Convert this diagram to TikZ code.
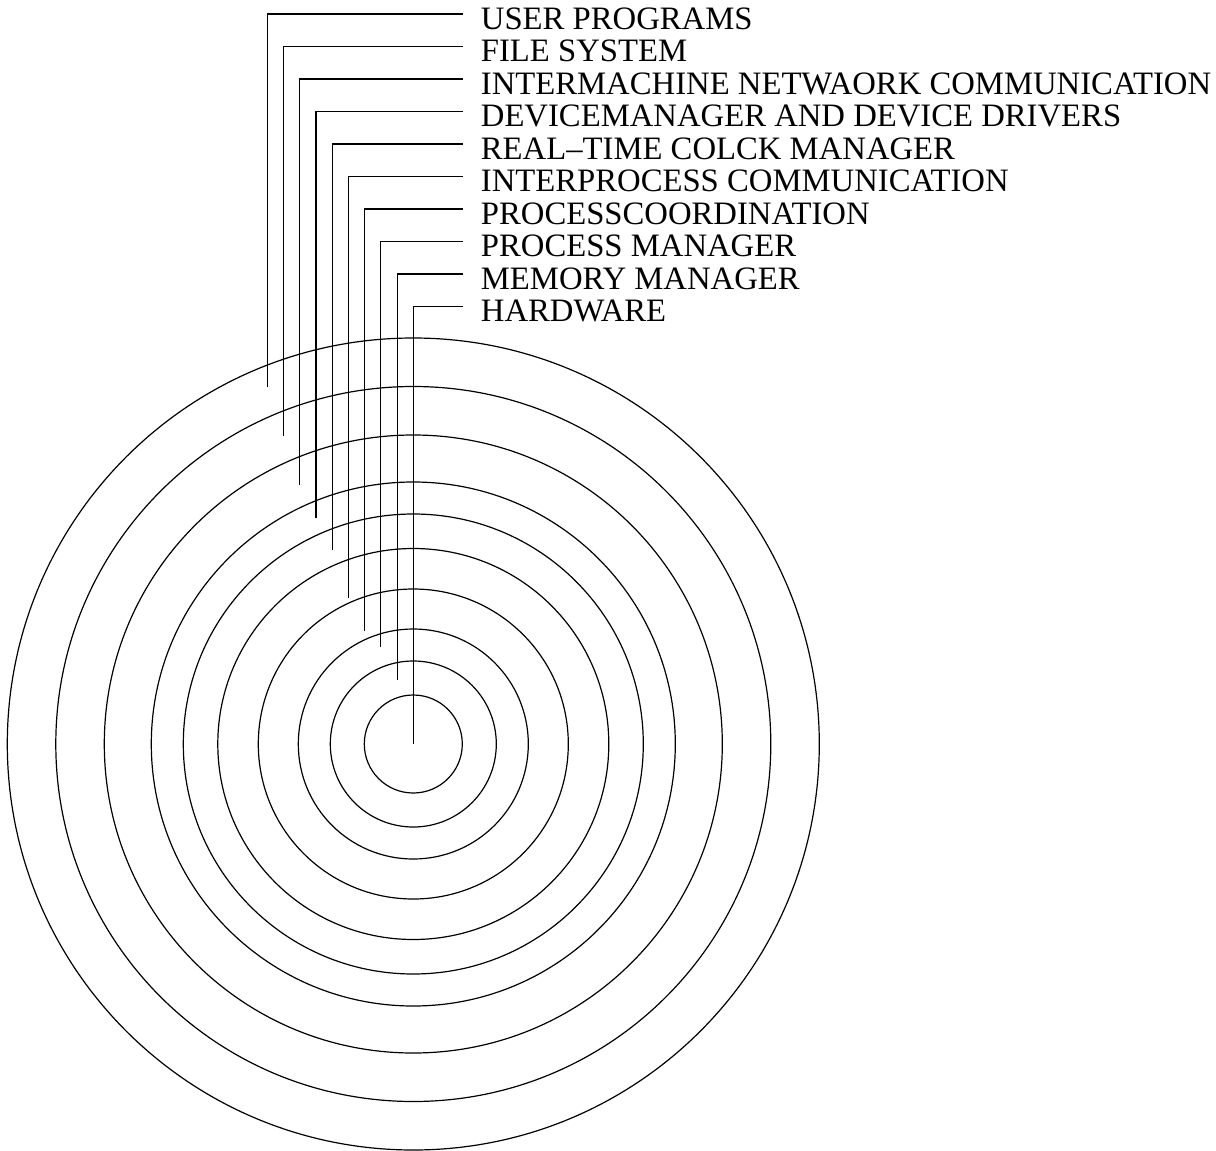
\documentclass[tikz,border=0pt]{standalone}
\usepackage{fontspec}
\setmainfont{Liberation Serif}
\usetikzlibrary{positioning}

\begin{document}
\begin{tikzpicture}[x=1pt, y=-1pt, line width=1.2pt,
  layerlbl/.style={anchor=west, inner xsep=17.8pt, inner ysep=0pt,
    text height=30pt, text depth=0pt, font=\fontsize{32.7}{32.7}\selectfont}]
  \useasboundingbox (0,0) rectangle (1216,1151);
  % rings, from hardware outwards
  \coordinate (ctr) at (413.3,744);
  \draw (ctr) circle[radius=49];
  \draw (ctr) circle[radius=83];
  \draw (ctr) circle[radius=115];
  \draw (ctr) circle[radius=155];
  \draw (ctr) circle[radius=195.5];
  \draw (ctr) circle[radius=230];
  \draw (ctr) circle[radius=262];
  \draw (ctr) circle[radius=309];
  \draw (ctr) circle[radius=357.5];
  \draw (ctr) circle[radius=406];
  % labels
  \node[layerlbl] (usr) at (462.5,14) {USER PROGRAMS};
  \node[layerlbl] (fs) at (462.5,46.5) {FILE SYSTEM};
  \node[layerlbl] (net) at (462.5,79) {INTERMACHINE NETWAORK COMMUNICATION};
  \node[layerlbl] (dev) at (462.5,111.5) {DEVICEMANAGER AND DEVICE DRIVERS};
  \node[layerlbl] (clk) at (462.5,144) {REAL–TIME COLCK MANAGER};
  \node[layerlbl] (ipc) at (462.5,176.5) {INTERPROCESS COMMUNICATION};
  \node[layerlbl] (coord) at (462.5,209) {PROCESSCOORDINATION};
  \node[layerlbl] (proc) at (462.5,241.5) {PROCESS MANAGER};
  \node[layerlbl] (mem) at (462.5,274) {MEMORY MANAGER};
  \node[layerlbl] (hw) at (462.5,306.5) {HARDWARE};
  % leader ends, one inside each ring
  \coordinate (usr-end) at (267.3,387);
  \coordinate (fs-end) at (283.5,436);
  \coordinate (net-end) at (299.8,485);
  \coordinate (dev-end) at (316.0,518);
  \coordinate (clk-end) at (332.2,550);
  \coordinate (ipc-end) at (348.4,598);
  \coordinate (coord-end) at (364.6,631);
  \coordinate (proc-end) at (380.8,647);
  \coordinate (mem-end) at (397.1,680);
  \coordinate (hw-end) at (413.3,744);
  \draw (usr.west) -| (usr-end);
  \draw (fs.west) -| (fs-end);
  \draw (net.west) -| (net-end);
  \draw (dev.west) -| (dev-end);
  \draw (clk.west) -| (clk-end);
  \draw (ipc.west) -| (ipc-end);
  \draw (coord.west) -| (coord-end);
  \draw (proc.west) -| (proc-end);
  \draw (mem.west) -| (mem-end);
  \draw (hw.west) -| (hw-end);
\end{tikzpicture}
\end{document}
